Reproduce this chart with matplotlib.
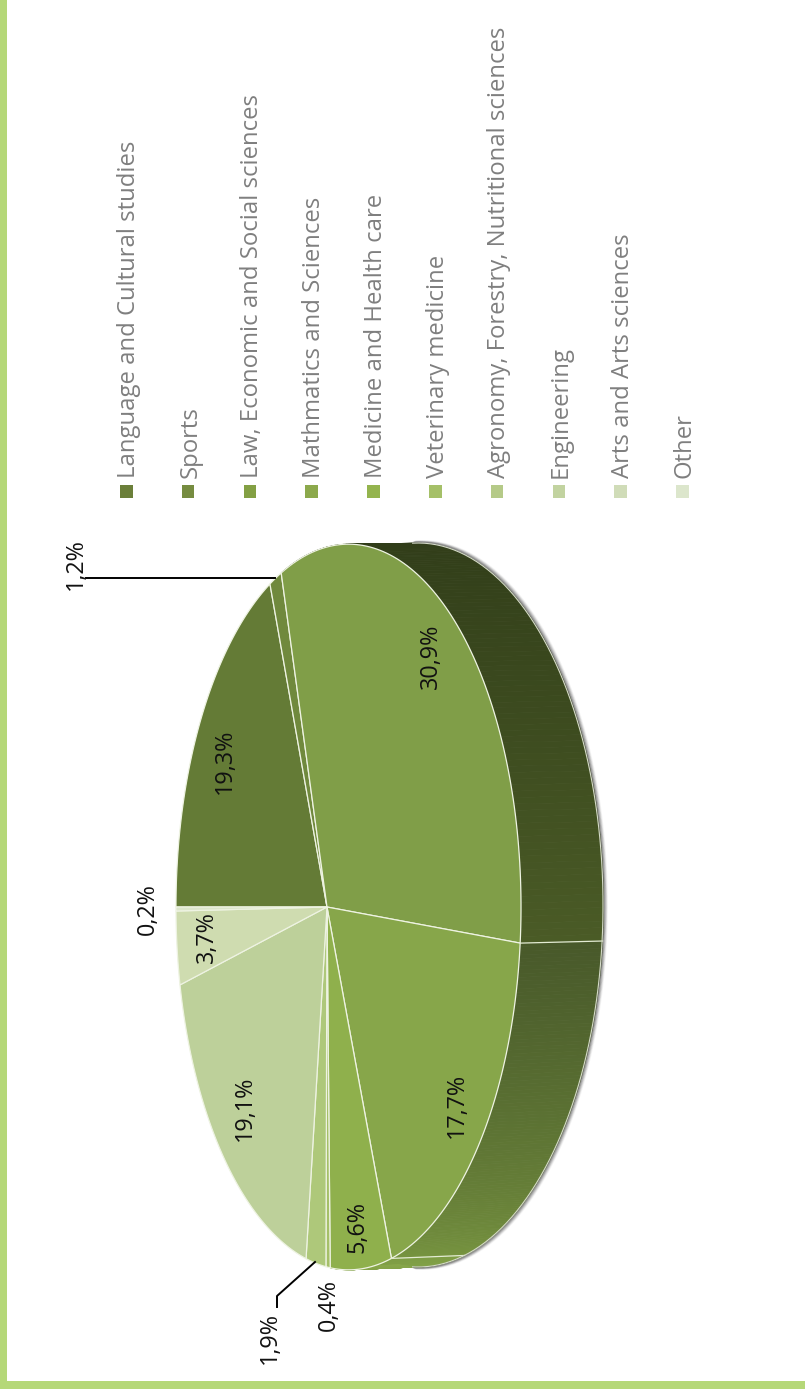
import numpy as np
import matplotlib
matplotlib.use('Agg')
import matplotlib.pyplot as plt
from matplotlib.patches import Polygon, Rectangle
from matplotlib.colors import to_rgb

categories = ['Language and Cultural studies', 'Sports', 'Law, Economic and Social sciences',
              'Mathmatics and Sciences', 'Medicine and Health care', 'Veterinary medicine',
              'Agronomy, Forestry, Nutritional sciences', 'Engineering', 'Arts and Arts sciences', 'Other']
values = [19.3, 1.2, 30.9, 17.7, 5.6, 0.4, 1.9, 19.1, 3.7, 0.2]
value_labels = ['19,3%', '1,2%', '30,9%', '17,7%', '5,6%', '0,4%', '1,9%', '19,1%', '3,7%', '0,2%']
label_pos = [(225, 761), (76, 564), (431, 656), (457, 1105), (357, 1227),
             (329, 1305), (270, 1338), (245, 1108), (207, 937), (148, 909)]
top_colors = ['#647b36', '#70893d', '#809e48', '#87a64a', '#8fb04c',
              '#a5c068', '#aec87a', '#bdd09a', '#cfdcb0', '#dce6cc']
legend_colors = ['#6b7f3a', '#768c40', '#83a044', '#8ca94c', '#94b44e',
                 '#a5c068', '#b5ca88', '#c2d3a0', '#d0dcb8', '#dce6cc']
wall_colors = {2: ('#2f3b18', '#4a5b26'), 3: ('#48592a', '#76933f'), 4: ('#7d9c44', '#87a64a')}

FONT = 'Open Sans'
fig = plt.figure(figsize=(8.05, 13.89), dpi=100)
ax = fig.add_axes([0, 0, 1, 1])
ax.set_xlim(0, 805)
ax.set_ylim(1389, 0)
ax.axis('off')

ax.add_patch(Rectangle((0, 0), 7, 1389, color='#b5d878', lw=0))
ax.add_patch(Rectangle((0, 1381), 805, 8, color='#b5d878', lw=0))


# perspective of the tilted pie, th in degrees clockwise from the left point
def rim(th):
    th = np.radians(th)
    u, v = -np.cos(th), -np.sin(th)
    w = 1 - 0.1246 * u
    return (327 + 129.1 * u) / w, 907 + 360 * v / w


def lower(x, y):
    c, s = (x - 348) / 172.5, (y - 907) / 363.0
    return 418 + 185 * c, 905 + 362 * s


# soft shadow round the lower edge
t = np.linspace(-1.6, 1.6, 200)
for off, a in [(4, 0.06), (3.2, 0.12), (2.4, 0.2), (1.6, 0.3), (0.8, 0.4)]:
    ax.plot(418 + off + 185 * np.cos(t), 905 + off * 0.5 * np.sin(t) + 362 * np.sin(t),
            color='#444444', alpha=a, lw=1.3)

edges = np.concatenate([[0], np.cumsum(values)]) / sum(values) * 360

# side wall
for i, c in wall_colors.items():
    ths = np.linspace(edges[i], edges[i + 1], 120)
    c0, c1 = np.array(to_rgb(c[0])), np.array(to_rgb(c[1]))
    # the wall is nearly flat colour at first, lightens towards the end
    for j in range(len(ths) - 1):
        x0, y0 = rim(ths[j])
        x1, y1 = rim(ths[j + 1])
        a0, b0 = lower(x0, y0)
        a1, b1 = lower(x1, y1)
        f = j / (len(ths) - 2)
        col = c0 + (c1 - c0) * f ** 2 if i == 2 else c0 + (c1 - c0) * f
        ax.add_patch(Polygon([(x0, y0), (x1, y1), (a1, b1), (a0, b0)], closed=True,
                             facecolor=col, edgecolor=col, lw=0.6))

# top face
for i, c in enumerate(top_colors):
    ths = np.linspace(edges[i], edges[i + 1], 100)
    xs, ys = rim(ths)
    ax.add_patch(Polygon(np.column_stack([np.r_[327, xs], np.r_[907, ys]]), closed=True,
                         facecolor=c, edgecolor='#eef3e2', lw=0.9, zorder=3))

# wall dividers and outer rim
for i in [3, 4]:
    x, y = rim(edges[i])
    a, b = lower(x, y)
    ax.plot([x, a], [y, b], color='#e3ebd3', lw=0.9, zorder=3)
ax.plot(418 + 185 * np.cos(t), 905 + 362 * np.sin(t), color='#d5dbc8', lw=0.8, zorder=3)

# value labels
for s, (x, y) in zip(value_labels, label_pos):
    ax.text(x, y, s, rotation=90, ha='center', va='center', fontsize=16.8, family=FONT,
            color='#111111', zorder=5)
ax.plot([86, 275], [578, 578], color='black', lw=1.4, zorder=4)
ax.plot([315, 277, 277], [1262, 1296, 1307], color='black', lw=1.4, zorder=4)

# legend
for i, (name, c) in enumerate(zip(categories, legend_colors)):
    x = 126 + i * 61.8
    ax.add_patch(Rectangle((x - 6, 485), 12.5, 12.5, color=c, lw=0))
    ax.text(x + 8.5, 478, name, rotation=90, rotation_mode='anchor', ha='left', va='baseline',
            fontsize=17.2, family=FONT, color='#7f7f7f')

fig.savefig('out.png', dpi=100)
